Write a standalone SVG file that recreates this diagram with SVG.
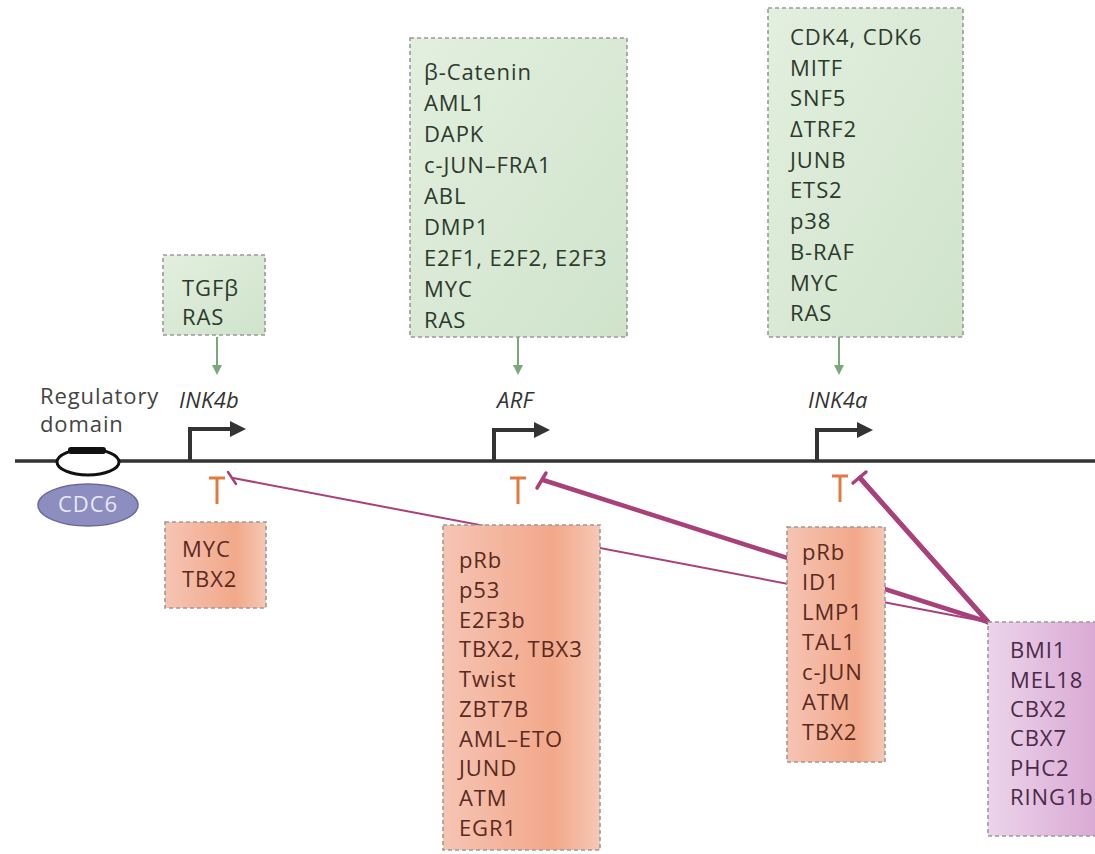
<svg xmlns="http://www.w3.org/2000/svg" width="1095" height="854" viewBox="0 0 1095 854">
<style>
.t{font-family:"Open Sans",Lato,sans-serif;font-size:22px;letter-spacing:0.9px}
.g{fill:#2c3a2c}
.o{fill:#5a2a1e}
.p{fill:#4a2a48}
.lab{font-family:"Open Sans",Lato,sans-serif;font-size:22px;letter-spacing:0.9px;fill:#444}
.it{font-style:italic;fill:#333;letter-spacing:0.3px}
.box{stroke:#9a9a9a;stroke-width:1.6;stroke-dasharray:4 3}
.prom{fill:none;stroke:#333;stroke-width:4}
.ga{stroke:#7aa87a;stroke-width:2;marker-end:url(#ga)}
.tb{stroke:#e07a40;stroke-width:3;fill:none}
.pc{stroke:#a8407a;fill:none;stroke-linecap:round}
</style>
<defs>
<linearGradient id="gg" x1="0" y1="0" x2="1" y2="1"><stop offset="0" stop-color="#e3efdf"/><stop offset="1" stop-color="#cfe3cb"/></linearGradient>
<linearGradient id="og" x1="0" y1="0" x2="1" y2="0"><stop offset="0" stop-color="#f6c4b4"/><stop offset="0.7" stop-color="#f2a88a"/><stop offset="1" stop-color="#f6c8b4"/></linearGradient>
<linearGradient id="pg" x1="0" y1="0" x2="1" y2="0"><stop offset="0" stop-color="#ecd4ea"/><stop offset="1" stop-color="#d9a8d4"/></linearGradient>
<marker id="ga" markerWidth="10" markerHeight="10" refX="7" refY="5" orient="auto" markerUnits="userSpaceOnUse"><path d="M0,0 L10,5 L0,10 z" fill="#7aa87a"/></marker>
<marker id="pa" markerWidth="16" markerHeight="16" refX="12" refY="8" orient="auto" markerUnits="userSpaceOnUse"><path d="M0,0 L16,8 L0,16 z" fill="#333"/></marker>
</defs>
<rect width="1095" height="854" fill="#fff"/>

<g id="connectors">
<line class="pc" x1="233" y1="478" x2="988" y2="622" stroke-width="2"/>
<line class="pc" x1="228" y1="472" x2="236" y2="484" stroke-width="2.5"/>
<line class="pc" x1="543" y1="480" x2="988" y2="622" stroke-width="4.5"/>
<line class="pc" x1="537" y1="488" x2="546" y2="473" stroke-width="3.5"/>
<line class="pc" x1="860" y1="478" x2="988" y2="622" stroke-width="5"/>
<line class="pc" x1="853" y1="483" x2="866" y2="472" stroke-width="3.5"/>
<line class="ga" x1="217" y1="337" x2="217" y2="372"/>
<line class="ga" x1="518" y1="337" x2="518" y2="372"/>
<line class="ga" x1="839" y1="337" x2="839" y2="372"/>
<path class="tb" d="M209,478 H225 M217,478 V504"/>
<path class="tb" d="M510,478 H526 M518,478 V504"/>
<path class="tb" d="M832,476 H848 M840,476 V502"/>
</g>

<g id="dna">
<line x1="15" y1="461" x2="1095" y2="461" stroke="#333" stroke-width="3.5"/>
<path class="prom" d="M190,461 V429 H242" marker-end="url(#pa)"/>
<path class="prom" d="M494,461 V430 H546" marker-end="url(#pa)"/>
<path class="prom" d="M817,461 V430 H869" marker-end="url(#pa)"/>
<text class="lab it" x="179" y="408">INK4b</text>
<text class="lab it" x="497" y="408">ARF</text>
<text class="lab it" x="808" y="408">INK4a</text>
</g>

<g id="regulatory">
<text class="lab" x="40" y="404">Regulatory</text>
<text class="lab" x="40" y="432">domain</text>
<ellipse cx="88" cy="462" rx="31" ry="13" fill="#fff" stroke="#111" stroke-width="3"/>
<rect x="68" y="447" width="38" height="7" rx="3" fill="#111"/>
</g>

<g id="cdc6">
<ellipse cx="88" cy="505" rx="50" ry="21" fill="#8d8dc0" stroke="#6a6aa0" stroke-width="1.5"/>
<text class="t" x="88" y="512" text-anchor="middle" fill="#e8e8f4" font-size="19">CDC6</text>
</g>

<g id="ink4b-act">
<rect class="box" x="163" y="255" width="102" height="80" fill="url(#gg)"/>
<text class="t g" x="182" y="296">TGFβ</text>
<text class="t g" x="182" y="325">RAS</text>
</g>

<g id="arf-act">
<rect class="box" x="410" y="38" width="217" height="299" fill="url(#gg)"/>
<g class="t g">
<text x="424" y="80">β-Catenin</text>
<text x="424" y="111">AML1</text>
<text x="424" y="142">DAPK</text>
<text x="424" y="173">c-JUN–FRA1</text>
<text x="424" y="204">ABL</text>
<text x="424" y="235">DMP1</text>
<text x="424" y="266">E2F1, E2F2, E2F3</text>
<text x="424" y="297">MYC</text>
<text x="424" y="328">RAS</text>
</g>
</g>

<g id="ink4a-act">
<rect class="box" x="768" y="8" width="195" height="329" fill="url(#gg)"/>
<g class="t g">
<text x="790" y="45">CDK4, CDK6</text>
<text x="790" y="76">MITF</text>
<text x="790" y="106">SNF5</text>
<text x="790" y="137">ΔTRF2</text>
<text x="790" y="168">JUNB</text>
<text x="790" y="198">ETS2</text>
<text x="790" y="229">p38</text>
<text x="790" y="260">B-RAF</text>
<text x="790" y="291">MYC</text>
<text x="790" y="321">RAS</text>
</g>
</g>

<g id="ink4b-rep">
<rect class="box" x="165" y="522" width="101" height="86" fill="url(#og)"/>
<text class="t o" x="182" y="557">MYC</text>
<text class="t o" x="182" y="587">TBX2</text>
</g>

<g id="arf-rep">
<rect class="box" x="443" y="525" width="157" height="325" fill="url(#og)"/>
<g class="t o">
<text x="459" y="568">pRb</text>
<text x="459" y="598">p53</text>
<text x="459" y="628">E2F3b</text>
<text x="459" y="657">TBX2, TBX3</text>
<text x="459" y="687">Twist</text>
<text x="459" y="717">ZBT7B</text>
<text x="459" y="747">AML–ETO</text>
<text x="459" y="776">JUND</text>
<text x="459" y="806">ATM</text>
<text x="459" y="836">EGR1</text>
</g>
</g>

<g id="ink4a-rep">
<rect class="box" x="787" y="527" width="98" height="235" fill="url(#og)"/>
<g class="t o">
<text x="802" y="560">pRb</text>
<text x="802" y="590">ID1</text>
<text x="802" y="620">LMP1</text>
<text x="802" y="650">TAL1</text>
<text x="802" y="680">c-JUN</text>
<text x="802" y="710">ATM</text>
<text x="802" y="740">TBX2</text>
</g>
</g>

<g id="pcg">
<rect class="box" x="988" y="622" width="112" height="214" fill="url(#pg)"/>
<g class="t p">
<text x="1010" y="658">BMI1</text>
<text x="1010" y="688">MEL18</text>
<text x="1010" y="717">CBX2</text>
<text x="1010" y="746">CBX7</text>
<text x="1010" y="776">PHC2</text>
<text x="1010" y="805">RING1b</text>
</g>
</g>
</svg>
